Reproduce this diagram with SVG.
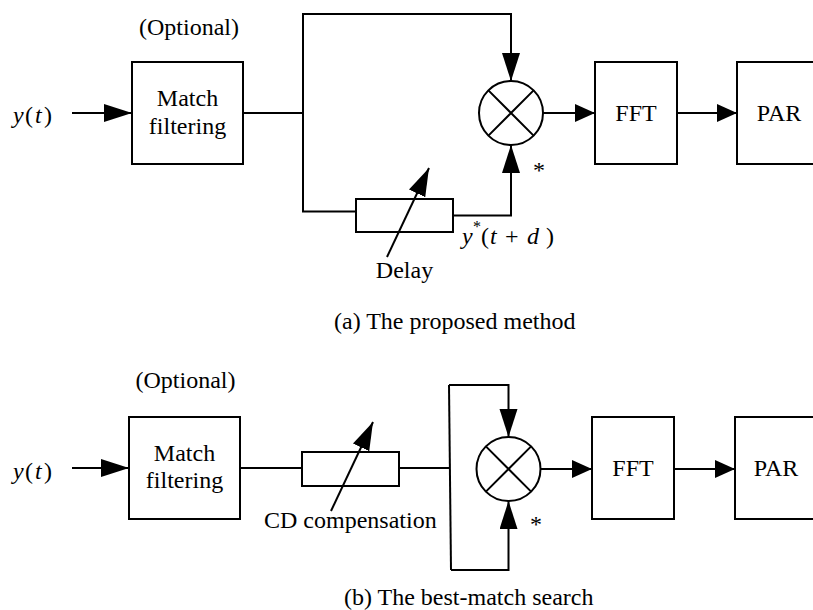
<svg xmlns="http://www.w3.org/2000/svg" width="813" height="610" viewBox="0 0 813 610">
<style>
.b{fill:#fff;stroke:#000;stroke-width:2}
.l{fill:none;stroke:#000;stroke-width:2}
text{font-family:'Liberation Serif','DejaVu Serif',serif;font-size:24px;fill:#000}
.c{text-anchor:middle}
.i{font-style:italic}
</style>
<defs>
<marker id="aL" markerUnits="userSpaceOnUse" markerWidth="30" markerHeight="20" refX="28" refY="9" orient="auto"><path d="M0,0 L28,9 L0,18 z" fill="#000"/></marker>
<marker id="aS" markerUnits="userSpaceOnUse" markerWidth="22" markerHeight="20" refX="20" refY="9" orient="auto"><path d="M0,0 L20,9 L0,18 z" fill="#000"/></marker>
</defs>
<rect width="813" height="610" fill="#fff"/>
<g font-family="Liberation Serif, serif" font-size="24">
<!-- (a) -->
<g id="a-input"><text x="13" y="123"><tspan class="i">y</tspan><tspan x="25">(</tspan><tspan x="35" class="i">t</tspan><tspan x="44">)</tspan></text></g>
<g id="a-optional"><text class="c" x="189" y="35">(Optional)</text></g>
<g id="a-match"><rect class="b" x="132" y="62" width="111" height="102"/><text class="c" x="187.5" y="106">Match</text><text class="c" x="187.5" y="134">filtering</text></g>
<g id="a-mult"><circle class="b" cx="511" cy="113" r="32"/><path class="l" d="M488.4,90.4 L533.6,135.6 M533.6,90.4 L488.4,135.6"/><text x="533" y="178">*</text></g>
<g id="a-fft"><rect class="b" x="595" y="62" width="82" height="102"/><text class="c" x="636" y="121">FFT</text></g>
<g id="a-par"><rect class="b" x="737" y="62" width="90" height="102"/><text class="c" x="779" y="121">PAR</text></g>
<g id="a-delay"><rect class="b" x="356" y="199" width="97" height="33"/><text class="c" x="404.5" y="278">Delay</text></g>
<g id="a-ylabel"><text x="462" y="244"><tspan class="i">y</tspan><tspan x="473" y="232" style="font-size:16px">*</tspan><tspan x="481" y="244">(</tspan><tspan x="490" class="i">t</tspan><tspan x="505">+</tspan><tspan x="527" class="i">d</tspan><tspan x="546">)</tspan></text></g>
<g id="a-caption"><text x="334" y="329">(a) The proposed method</text></g>

<g id="a-connectors">
<line class="l" x1="72" y1="113" x2="132" y2="113" marker-end="url(#aL)"/>
<polyline class="l" points="243,113 303,113"/>
<polyline class="l" points="303,113 303,14 511,14 511,81" marker-end="url(#aL)"/>
<polyline class="l" points="303,113 303,211.5 356,211.5"/>
<polyline class="l" points="453,215.5 511,215.5 511,145" marker-end="url(#aL)"/>
<line class="l" x1="543" y1="113" x2="595" y2="113" marker-end="url(#aS)"/>
<line class="l" x1="677" y1="113" x2="737" y2="113" marker-end="url(#aS)"/>
<line class="l" x1="387" y1="257" x2="429" y2="168" marker-end="url(#aL)"/>
</g>

<!-- (b) -->
<g id="b-input"><text x="13" y="479"><tspan class="i">y</tspan><tspan x="25">(</tspan><tspan x="35" class="i">t</tspan><tspan x="44">)</tspan></text></g>
<g id="b-optional"><text class="c" x="185.5" y="388">(Optional)</text></g>
<g id="b-match"><rect class="b" x="129" y="417" width="111" height="102"/><text class="c" x="184.5" y="461">Match</text><text class="c" x="184.5" y="488">filtering</text></g>
<g id="b-cd"><rect class="b" x="302" y="452" width="97" height="34"/><text x="264" y="528">CD compensation</text></g>
<g id="b-mult"><circle class="b" cx="508.5" cy="469" r="32"/><path class="l" d="M485.9,446.4 L531.1,491.6 M531.1,446.4 L485.9,491.6"/><text x="530" y="532">*</text></g>
<g id="b-fft"><rect class="b" x="592" y="417" width="82" height="102"/><text class="c" x="633" y="476">FFT</text></g>
<g id="b-par"><rect class="b" x="735" y="417" width="90" height="102"/><text class="c" x="776" y="476">PAR</text></g>
<g id="b-caption"><text x="344" y="605">(b) The best-match search</text></g>

<g id="b-connectors">
<line class="l" x1="72" y1="468" x2="129" y2="468" marker-end="url(#aL)"/>
<line class="l" x1="240" y1="468" x2="302" y2="468"/>
<line class="l" x1="399" y1="468" x2="449.5" y2="468"/>
<polyline class="l" points="449,385 451,570"/>
<polyline class="l" points="449,385 508.5,385 508.5,437" marker-end="url(#aL)"/>
<polyline class="l" points="451,570 508.5,570 508.5,501" marker-end="url(#aL)"/>
<line class="l" x1="540.5" y1="469" x2="592" y2="469" marker-end="url(#aS)"/>
<line class="l" x1="674" y1="469" x2="735" y2="469" marker-end="url(#aS)"/>
<line class="l" x1="331" y1="511" x2="373" y2="422" marker-end="url(#aL)"/>
</g>
</g>
</svg>
